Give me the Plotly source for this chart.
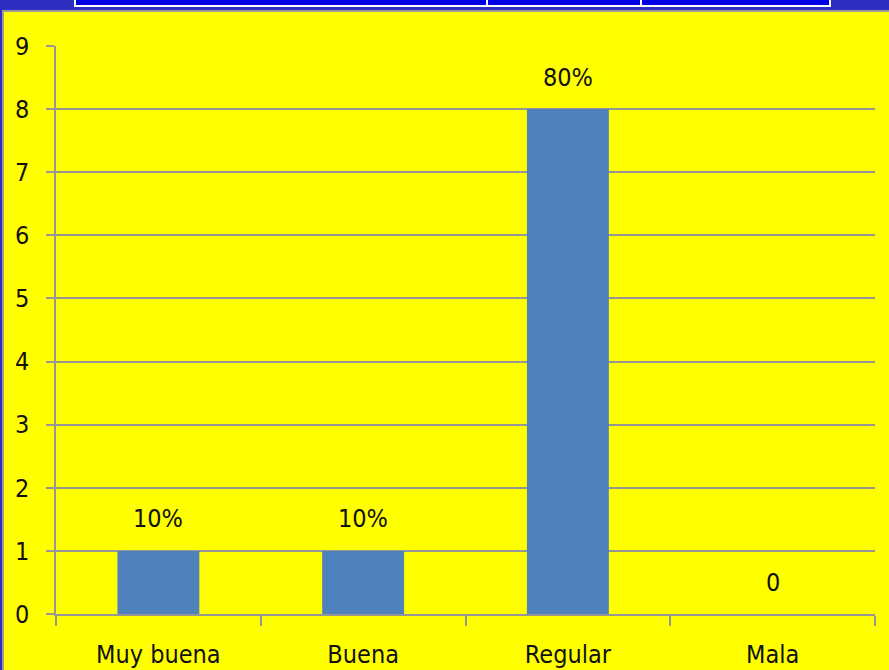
import plotly.graph_objects as go

# Survey answers and counts
categories = ["Muy buena", "Buena", "Regular", "Mala"]
counts = [1, 1, 8, 0]
labels = ["10%", "10%", "80%", "0"]
y_ticks = list(range(0, 10))

FONT = "Liberation Sans Narrow, DejaVu Sans Condensed, Arial Narrow, sans-serif"
GRID = "rgb(150,150,150)"
FS = 25

W, H = 889, 670
L, R, T, B = 56, 14, 46, 56
pw, ph = W - L - R, H - T - B


def px_x(p):
    return (p - L) / pw


def px_y(p):
    return (H - B - p) / ph


fig = go.Figure(
    go.Bar(
        x=categories,
        y=counts,
        marker=dict(color="#4f81bd", line=dict(width=0)),
        width=0.4,
        hoverinfo="skip",
    )
)

for c, v, t in zip(categories, counts, labels):
    fig.add_annotation(
        x=c, y=v, text=t, showarrow=False, yshift=32, yanchor="middle",
        font=dict(family=FONT, size=FS, color="#111111"),
    )

# yellow slide panel behind the chart
fig.add_shape(
    type="rect", xref="paper", yref="paper", layer="below",
    x0=px_x(3), x1=px_x(W + 30), y0=px_y(H + 30), y1=px_y(11),
    fillcolor="#ffff00", line=dict(color="#9a9a9a", width=2),
)

# header table strip at the top
fig.add_shape(
    type="rect", xref="paper", yref="paper", layer="above",
    x0=px_x(75), x1=px_x(830), y0=px_y(6), y1=px_y(-5),
    fillcolor="#0000e4", line=dict(color="#ffffff", width=2),
)
for xd in (487, 641):
    fig.add_shape(
        type="line", xref="paper", yref="paper", layer="above",
        x0=px_x(xd), x1=px_x(xd), y0=px_y(6), y1=px_y(-5),
        line=dict(color="#ffffff", width=2),
    )

fig.update_layout(
    width=W, height=H,
    margin=dict(l=L, r=R, t=T, b=B, autoexpand=False),
    paper_bgcolor="#2e2ec0",
    plot_bgcolor="#ffff00",
    showlegend=False,
    bargap=0.6,
    font=dict(family=FONT, size=FS, color="#111111"),
)
fig.update_xaxes(
    showgrid=False, showline=True, linecolor=GRID, linewidth=1.5,
    ticks="outside", tickson="boundaries", ticklen=10, tickcolor=GRID, tickwidth=1.5,
    ticklabelstandoff=17, automargin=False,
)
fig.update_yaxes(
    range=[0, 9], tickvals=y_ticks, showgrid=True, gridcolor=GRID, gridwidth=1.5,
    showline=True, linecolor=GRID, linewidth=1.5, zeroline=False,
    ticks="outside", ticklen=8, tickcolor=GRID, tickwidth=1.5,
    ticklabelstandoff=12, automargin=False,
)

fig.write_html("out.html")
